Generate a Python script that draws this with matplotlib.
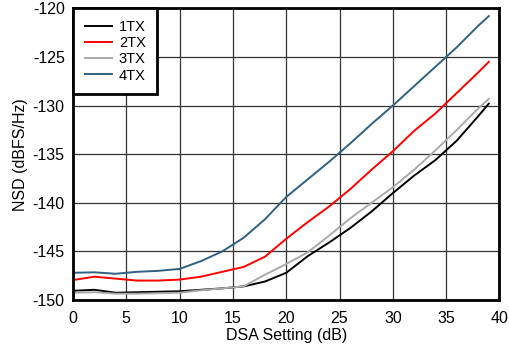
import matplotlib.pyplot as plt
import numpy as np

plt.rcParams['font.family'] = ['Liberation Sans', 'DejaVu Sans']
plt.rcParams['axes.unicode_minus'] = False

##-----------------------------------------------------------------------------

dsa = [0, 2, 4, 6, 8, 10, 12, 14, 16, 18, 20, 22, 24, 26, 28, 30, 32, 34, 36, 38, 39]

nsd_1tx = [-149.05, -148.95, -149.25, -149.2, -149.15, -149.1, -148.95, -148.8, -148.6, -148.1,
           -147.2, -145.5, -144.1, -142.6, -140.9, -139.0, -137.2, -135.6, -133.6, -131.1, -129.8]
nsd_2tx = [-147.95, -147.6, -147.8, -148.0, -148.0, -147.9, -147.6, -147.1, -146.6, -145.55,
           -143.7, -142.0, -140.4, -138.6, -136.6, -134.7, -132.6, -130.8, -128.7, -126.6, -125.5]
nsd_3tx = [-149.25, -149.2, -149.35, -149.35, -149.3, -149.25, -149.0, -148.8, -148.6, -147.4,
           -146.3, -145.1, -143.4, -141.6, -140.0, -138.4, -136.6, -134.6, -132.5, -130.3, -129.3]
nsd_4tx = [-147.2, -147.15, -147.3, -147.1, -147.0, -146.8, -146.0, -145.0, -143.6, -141.7,
           -139.4, -137.6, -135.8, -133.9, -131.9, -130.0, -128.0, -126.0, -124.0, -121.8, -120.8]

labels = ['1TX', '2TX', '3TX', '4TX']
colors = ['black', '#ff0000', '#aaaaaa', '#2f6180']

##-----------------------------------------------------------------------------

fs = 11.5

fig = plt.figure(figsize=(5.09, 3.47), dpi=100)
ax = fig.add_axes([0.1434, 0.1354, 0.8379, 0.8406])

for y, lab, c in zip([nsd_1tx, nsd_2tx, nsd_3tx, nsd_4tx], labels, colors):
    ax.plot(dsa, y, color=c, linewidth=1.4, label=lab)

ax.set_xlim(0, 40)
ax.set_ylim(-150, -120)
ax.set_xticks(np.arange(0, 41, 5))
ax.set_yticks(np.arange(-150, -119, 5))
ax.grid(color='#333333', linewidth=0.9)
ax.set_axisbelow(True)
ax.tick_params(length=0, labelsize=fs, pad=6)
ax.tick_params(axis='x', pad=8)
for s in ax.spines.values():
    s.set_linewidth(2)

ax.set_xlabel('DSA Setting (dB)', fontsize=fs, labelpad=1)
ax.set_ylabel('NSD (dBFS/Hz)', fontsize=fs, labelpad=3)

leg = ax.legend(loc='upper left', borderaxespad=0, fancybox=False, fontsize=10.5,
                handlelength=1.9, handletextpad=0.45, labelspacing=0.15,
                borderpad=0.8, framealpha=1)
leg.get_frame().set_edgecolor('black')
leg.get_frame().set_linewidth(2)

fig.savefig('out.png', dpi=100)
